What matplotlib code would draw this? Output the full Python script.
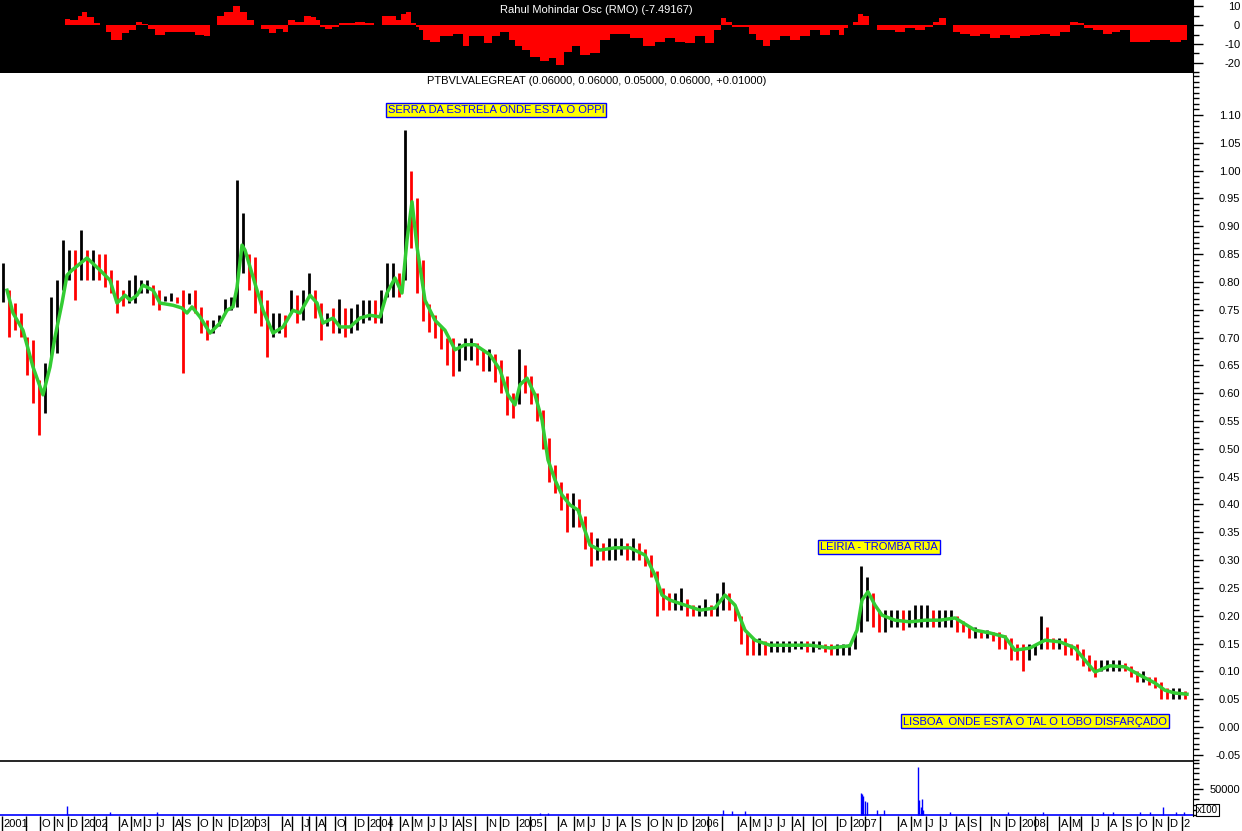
import numpy as np
import matplotlib.pyplot as plt
from matplotlib.ticker import MultipleLocator, FixedLocator, FormatStrFormatter
import matplotlib.transforms as mtransforms

plt.rcParams['font.family'] = ['Liberation Sans', 'DejaVu Sans']
plt.rcParams['axes.unicode_minus'] = False

# x positions are chart columns (one column ~ one trading day, no-trade days skipped)
month_pos = [2, 26, 40, 54, 68, 82, 94, 106, 119, 131, 144, 157, 173, 182, 198, 213, 229,
             241, 255, 268, 282, 292, 302, 309, 316, 325, 335, 345, 355,
             368, 380, 390, 400, 412, 428, 440, 453, 463, 475, 487, 500,
             517, 530, 545, 558, 574, 588, 603, 617, 632, 648, 663, 678,
             693, 708, 722, 738, 750, 765, 778, 792, 803, 813, 825, 837,
             851, 865, 880, 898, 911, 926, 940, 956, 968, 980, 991, 1006,
             1020, 1035, 1047, 1059, 1070, 1081, 1092, 1108, 1123, 1137, 1153, 1168, 1182]
month_lab = ['2001', '', 'O', 'N', 'D', '2002', '', '', 'A', 'M', 'J', 'J', 'A', 'S', 'O', 'N', 'D',
             '2003', '', '', 'A', '', 'J', '', 'A', '', 'O', '', 'D',
             '2004', '', '', 'A', 'M', 'J', 'J', 'A', 'S', '', 'N', 'D',
             '2005', '', '', 'A', 'M', 'J', 'J', 'A', 'S', 'O', 'N', 'D',
             '2006', '', '', 'A', 'M', 'J', 'J', 'A', '', 'O', '', 'D',
             '2007', '', '', 'A', 'M', 'J', 'J', 'A', 'S', '', 'N', 'D',
             '2008', '', '', 'A', 'M', '', 'J', 'A', 'S', 'O', 'N', 'D', '2']

# price range per 6-column block (high, low)
bar_hi = [0.834, 0.785, 0.762, 0.744, 0.701, 0.696, 0.624, 0.654, 0.773, 0.803,
          0.875, 0.857, 0.857, 0.893, 0.857, 0.857, 0.850, 0.850, 0.821, 0.803,
          0.785, 0.803, 0.812, 0.803, 0.803, 0.794, 0.785, 0.775, 0.780, 0.772,
          0.785, 0.780, 0.785, 0.755, 0.731, 0.731, 0.740, 0.770, 0.773, 0.983,
          0.924, 0.850, 0.845, 0.785, 0.767, 0.744, 0.744, 0.740, 0.785, 0.776,
          0.785, 0.816, 0.785, 0.762, 0.744, 0.753, 0.770, 0.753, 0.753, 0.760,
          0.767, 0.767, 0.767, 0.785, 0.834, 0.834, 0.816, 1.073, 1.000, 0.950,
          0.840, 0.760, 0.740, 0.720, 0.700, 0.700, 0.690, 0.700, 0.700, 0.690,
          0.680, 0.680, 0.670, 0.660, 0.630, 0.600, 0.680, 0.650, 0.630, 0.600,
          0.570, 0.520, 0.470, 0.440, 0.420, 0.420, 0.410, 0.380, 0.350, 0.340,
          0.330, 0.340, 0.340, 0.340, 0.330, 0.340, 0.330, 0.320, 0.310, 0.280,
          0.250, 0.240, 0.240, 0.250, 0.230, 0.220, 0.220, 0.230, 0.220, 0.240,
          0.260, 0.240, 0.220, 0.200, 0.170, 0.160, 0.160, 0.155, 0.155, 0.155,
          0.155, 0.155, 0.155, 0.155, 0.155, 0.155, 0.155, 0.150, 0.150, 0.150,
          0.150, 0.150, 0.170, 0.290, 0.270, 0.240, 0.210, 0.210, 0.210, 0.210,
          0.210, 0.210, 0.220, 0.220, 0.220, 0.210, 0.210, 0.210, 0.210, 0.200,
          0.190, 0.180, 0.180, 0.175, 0.175, 0.170, 0.170, 0.165, 0.160, 0.150,
          0.150, 0.150, 0.150, 0.200, 0.180, 0.160, 0.160, 0.160, 0.150, 0.150,
          0.140, 0.130, 0.120, 0.120, 0.120, 0.120, 0.120, 0.115, 0.110, 0.100,
          0.100, 0.090, 0.090, 0.080, 0.070, 0.070, 0.070, 0.065]
bar_lo = [0.764, 0.701, 0.713, 0.701, 0.633, 0.582, 0.525, 0.564, 0.665, 0.672,
          0.785, 0.803, 0.767, 0.803, 0.803, 0.803, 0.803, 0.790, 0.780, 0.744,
          0.756, 0.762, 0.762, 0.780, 0.780, 0.758, 0.749, 0.765, 0.765, 0.762,
          0.636, 0.760, 0.744, 0.708, 0.696, 0.708, 0.720, 0.744, 0.749, 0.755,
          0.816, 0.785, 0.744, 0.720, 0.665, 0.701, 0.708, 0.701, 0.744, 0.726,
          0.731, 0.773, 0.735, 0.696, 0.720, 0.708, 0.708, 0.701, 0.708, 0.713,
          0.726, 0.731, 0.726, 0.726, 0.773, 0.773, 0.773, 0.803, 0.860, 0.780,
          0.730, 0.710, 0.700, 0.680, 0.650, 0.630, 0.640, 0.660, 0.660, 0.650,
          0.640, 0.640, 0.620, 0.600, 0.560, 0.555, 0.580, 0.600, 0.580, 0.550,
          0.500, 0.440, 0.420, 0.390, 0.350, 0.360, 0.360, 0.320, 0.290, 0.300,
          0.300, 0.300, 0.300, 0.310, 0.300, 0.300, 0.300, 0.290, 0.270, 0.200,
          0.210, 0.210, 0.210, 0.210, 0.200, 0.200, 0.200, 0.200, 0.200, 0.200,
          0.210, 0.210, 0.190, 0.150, 0.130, 0.130, 0.130, 0.130, 0.135, 0.135,
          0.135, 0.135, 0.140, 0.140, 0.135, 0.135, 0.140, 0.135, 0.130, 0.130,
          0.130, 0.130, 0.140, 0.170, 0.190, 0.180, 0.170, 0.170, 0.180, 0.180,
          0.175, 0.180, 0.180, 0.180, 0.180, 0.180, 0.180, 0.180, 0.180, 0.170,
          0.170, 0.160, 0.160, 0.160, 0.160, 0.155, 0.140, 0.140, 0.120, 0.120,
          0.100, 0.120, 0.130, 0.140, 0.140, 0.140, 0.140, 0.130, 0.130, 0.120,
          0.110, 0.100, 0.090, 0.100, 0.100, 0.100, 0.100, 0.100, 0.090, 0.080,
          0.080, 0.075, 0.070, 0.050, 0.050, 0.050, 0.050, 0.050]

# green moving average, read at these columns
ma_x = [7, 13, 23, 33, 43, 50, 55, 62, 67, 72, 87, 100, 110, 117, 125, 130, 137, 143, 153, 160,
        173, 182, 187, 192, 200, 210, 220, 227, 233, 237, 242, 245, 253, 263, 273, 283, 293, 300,
        310, 317, 323, 333, 340, 350, 360, 370, 380, 387, 395, 402, 407, 412, 417, 425, 435, 445,
        455, 465, 475, 490, 500, 508, 515, 520, 527, 535, 542, 548, 555, 562, 570, 578, 583, 590,
        600, 615, 630, 645, 655, 662, 670, 685, 700, 715, 725, 735, 745, 755, 770, 790, 810, 830,
        850, 857, 862, 868, 875, 882, 895, 910, 925, 940, 955, 965, 975, 990, 1005, 1015, 1030,
        1045, 1060, 1075, 1085, 1095, 1110, 1125, 1140, 1155, 1165, 1175, 1187]
ma_v = [0.785, 0.744, 0.713, 0.647, 0.597, 0.647, 0.701, 0.762, 0.812, 0.821, 0.843, 0.821,
        0.803, 0.762, 0.776, 0.767, 0.776, 0.794, 0.785, 0.762, 0.758, 0.753, 0.744, 0.755,
        0.737, 0.708, 0.726, 0.749, 0.755, 0.790, 0.866, 0.857, 0.809, 0.749, 0.708, 0.719,
        0.749, 0.744, 0.776, 0.762, 0.726, 0.735, 0.719, 0.719, 0.735, 0.740, 0.737, 0.780,
        0.807, 0.780, 0.875, 0.944, 0.863, 0.767, 0.731, 0.713, 0.678, 0.687, 0.687, 0.669,
        0.642, 0.597, 0.579, 0.615, 0.627, 0.597, 0.552, 0.480, 0.444, 0.417, 0.399, 0.390,
        0.363, 0.327, 0.318, 0.322, 0.322, 0.309, 0.273, 0.237, 0.228, 0.219, 0.210, 0.214,
        0.237, 0.219, 0.174, 0.156, 0.147, 0.147, 0.147, 0.142, 0.146, 0.174, 0.228, 0.243,
        0.219, 0.201, 0.192, 0.189, 0.192, 0.192, 0.196, 0.185, 0.174, 0.169, 0.162, 0.138,
        0.142, 0.156, 0.153, 0.142, 0.120, 0.099, 0.110, 0.108, 0.093, 0.079, 0.066, 0.061,
        0.059]

# Rahul Mohindar oscillator
osc_x = [65, 75, 80, 83, 90, 97, 103, 108, 113, 118, 125, 133, 138, 145, 150, 160, 170, 180,
         190, 200, 207, 213, 220, 228, 237, 243, 250, 257, 265, 272, 280, 285, 290, 300, 308,
         313, 318, 322, 328, 335, 342, 350, 360, 370, 378, 385, 393, 398, 403, 408, 413, 418,
         420, 425, 435, 445, 460, 465, 472, 480, 488, 495, 505, 512, 518, 525, 535, 545, 552,
         560, 568, 575, 585, 595, 605, 615, 625, 635, 650, 660, 670, 680, 690, 700, 710, 718,
         723, 728, 735, 745, 752, 760, 765, 775, 785, 795, 805, 815, 825, 835, 842, 845, 850,
         855, 860, 865, 873, 880, 890, 900, 910, 920, 930, 935, 942, 950, 955, 965, 975, 985,
         995, 1005, 1015, 1025, 1035, 1045, 1055, 1065, 1075, 1080, 1088, 1098, 1108, 1115,
         1125, 1135, 1145, 1155, 1165, 1175, 1187]
osc_v = [3, 2.6, 5, 7, 4, 1, 0, -3.5, -8, -8, -4, -2.5, 1.5, 0.5, -2, -5, -3.5, -3.5, -3.5,
         -5, -6, 0, 5, 7, 10, 7, 2.6, 0, -2, -4, -2, -3.5, 2.6, 1.8, 5, 4, 2.6, -1, -2, -1, 1,
         1, 1.8, 1, 0, 5, 5, 2.6, 6, 7, 1, -1,
         -2.6, -8, -9, -6, -4.5, -11, -6, -6, -9.6, -6, -3.5, -8, -11, -13, -16.6, -19, -17.5,
         -21, -14, -11, -15.8, -15, -8, -4.5, -4.5, -7, -11, -9, -7, -9, -9.6, -6, -9.6, -2.6,
         3.5, 1.8, -1, -1, -4.5, -8, -11, -8, -6, -8, -6, -2.6, -5, -2.6, -5, -1.8, 0,
         1.8, 6, 5, 0, -2.6, -2.6, -3.5, -1.8, -2.6, -1, 1.8, 3.5, 0, -3.5, -4.5, -6, -4.5,
         -7, -5, -7, -6, -5, -4.5, -6, -3.5, 1.8, 1, -1.8, -2.6, -4.5, -3.5,
         -2.6, -9, -9, -8, -8, -9, -8]

# volume (x100)
vol_x = [67, 110, 157, 540, 548, 723, 732, 745, 861, 862, 863, 865, 867, 877, 884,
         918, 919, 921, 922, 923, 950, 1008, 1043, 1103, 1113, 1140, 1150, 1163, 1176, 1184]
vol_v = [17000, 6000, 6000, 3000, 3000, 10000, 8000, 8000, 42000, 40000, 37000, 27000,
         25000, 10000, 10000, 92000, 29000, 15000, 30000, 10000, 6000, 5000, 6000, 5000,
         6000, 6000, 5000, 15000, 6000, 5000]

W, H = 1242, 831
XR = 1193


def rect(x0, y0, x1, y1):
    return [x0 / W, 1 - y1 / H, (x1 - x0) / W, (y1 - y0) / H]


fig = plt.figure(figsize=(W / 100, H / 100), dpi=100)
ax_vol = fig.add_axes(rect(0, 761, XR, 816))
ax_main = fig.add_axes(rect(0, 73, XR, 761))
ax_osc = fig.add_axes(rect(0, 0, XR, 73))


def style_right(ax):
    for s in ['left', 'top', 'bottom']:
        ax.spines[s].set_visible(False)
    ax.spines['right'].set_color('black')
    ax.yaxis.tick_right()
    ax.set_xlim(0, XR)
    ax.set_xticks([])
    ax.tick_params(axis='y', which='major', direction='out', length=7, width=1,
                   labelsize=8, pad=27)
    ax.tick_params(axis='y', which='minor', direction='out', length=4, width=1)
    for lab in ax.get_yticklabels():
        lab.set_horizontalalignment('right')


# oscillator panel
ax_osc.set_facecolor('black')
ax_osc.fill_between(osc_x, osc_v, 0, step='mid', color='#ff0000', lw=0)
ax_osc.set_ylim(-25.3, 13.2)
ax_osc.yaxis.set_major_locator(MultipleLocator(10))
ax_osc.yaxis.set_minor_locator(MultipleLocator(5))
style_right(ax_osc)
ax_osc.text(0.5, 0.86, 'Rahul Mohindar Osc (RMO) (-7.49167)', color='white', fontsize=8,
            ha='center', va='center', transform=ax_osc.transAxes)

# price panel
xc = np.arange(len(bar_hi)) * 6 + 3
mid = (np.array(bar_hi) + np.array(bar_lo)) / 2
cols = ['k'] + ['#ff0000' if mid[i] < mid[i - 1] else 'k' for i in range(1, len(mid))]
ax_main.patch.set_visible(False)
ax_main.vlines(xc, bar_lo, bar_hi, colors=cols, lw=2.0)
ax_main.plot(ma_x, ma_v, color='#33cc33', lw=2.5)
ax_main.set_ylim(-0.0611, 1.1754)
ax_main.yaxis.set_major_locator(FixedLocator(np.arange(-0.05, 1.101, 0.05)))
ax_main.yaxis.set_minor_locator(MultipleLocator(0.01))
ax_main.yaxis.set_major_formatter(FormatStrFormatter('%.2f'))
style_right(ax_main)
ax_main.spines['bottom'].set_visible(True)
ax_main.spines['bottom'].set_linewidth(1.2)
ax_main.text(0.5, 0.988, 'PTBVLVALEGREAT (0.06000, 0.06000, 0.05000, 0.06000, +0.01000)',
             fontsize=8, ha='center', va='center', transform=ax_main.transAxes)

box = dict(boxstyle='square,pad=0.15', fc='yellow', ec='blue', lw=1)
ax_main.text(496, 1.109, 'SERRA DA ESTRELA ONDE ESTÁ O OPPI', color='blue', fontsize=8,
             ha='center', va='center', bbox=box)
ax_main.text(879, 0.3235, 'LEIRIA - TROMBA RIJA', color='blue', fontsize=8,
             ha='center', va='center', bbox=box)
ax_main.text(1035, 0.0108, 'LISBOA  ONDE ESTÁ O TAL O LOBO DISFARÇADO', color='blue',
             fontsize=8, ha='center', va='center', bbox=box)

# volume panel
ax_vol.axhline(0, color='blue', lw=1.2)
ax_vol.vlines(vol_x, 0, vol_v, colors='blue', lw=1)
ax_vol.set_ylim(-1923, 103846)
ax_vol.yaxis.set_minor_locator(MultipleLocator(10000))
style_right(ax_vol)
ax_vol.set_yticks([50000])
ax_vol.set_yticklabels(['50000'])
for lab in ax_vol.get_yticklabels():
    lab.set_horizontalalignment('right')
fig.text(1197 / W, 1 - 810 / H, 'x100', fontsize=7, va='center', ha='left',
         bbox=dict(boxstyle='square,pad=0.1', fc='white', ec='black', lw=0.8))

# month labels under the volume panel
trans = mtransforms.blended_transform_factory(ax_vol.transData, ax_vol.transAxes)
ax_vol.vlines(month_pos, -0.29, 0, colors='black', lw=1, transform=trans, clip_on=False)
for mx, ml in zip(month_pos, month_lab):
    ax_vol.text(mx + 1.5, -0.14, ml, fontsize=8, ha='left', va='center',
                transform=trans, clip_on=False)

fig.savefig('out.png', dpi=100)
